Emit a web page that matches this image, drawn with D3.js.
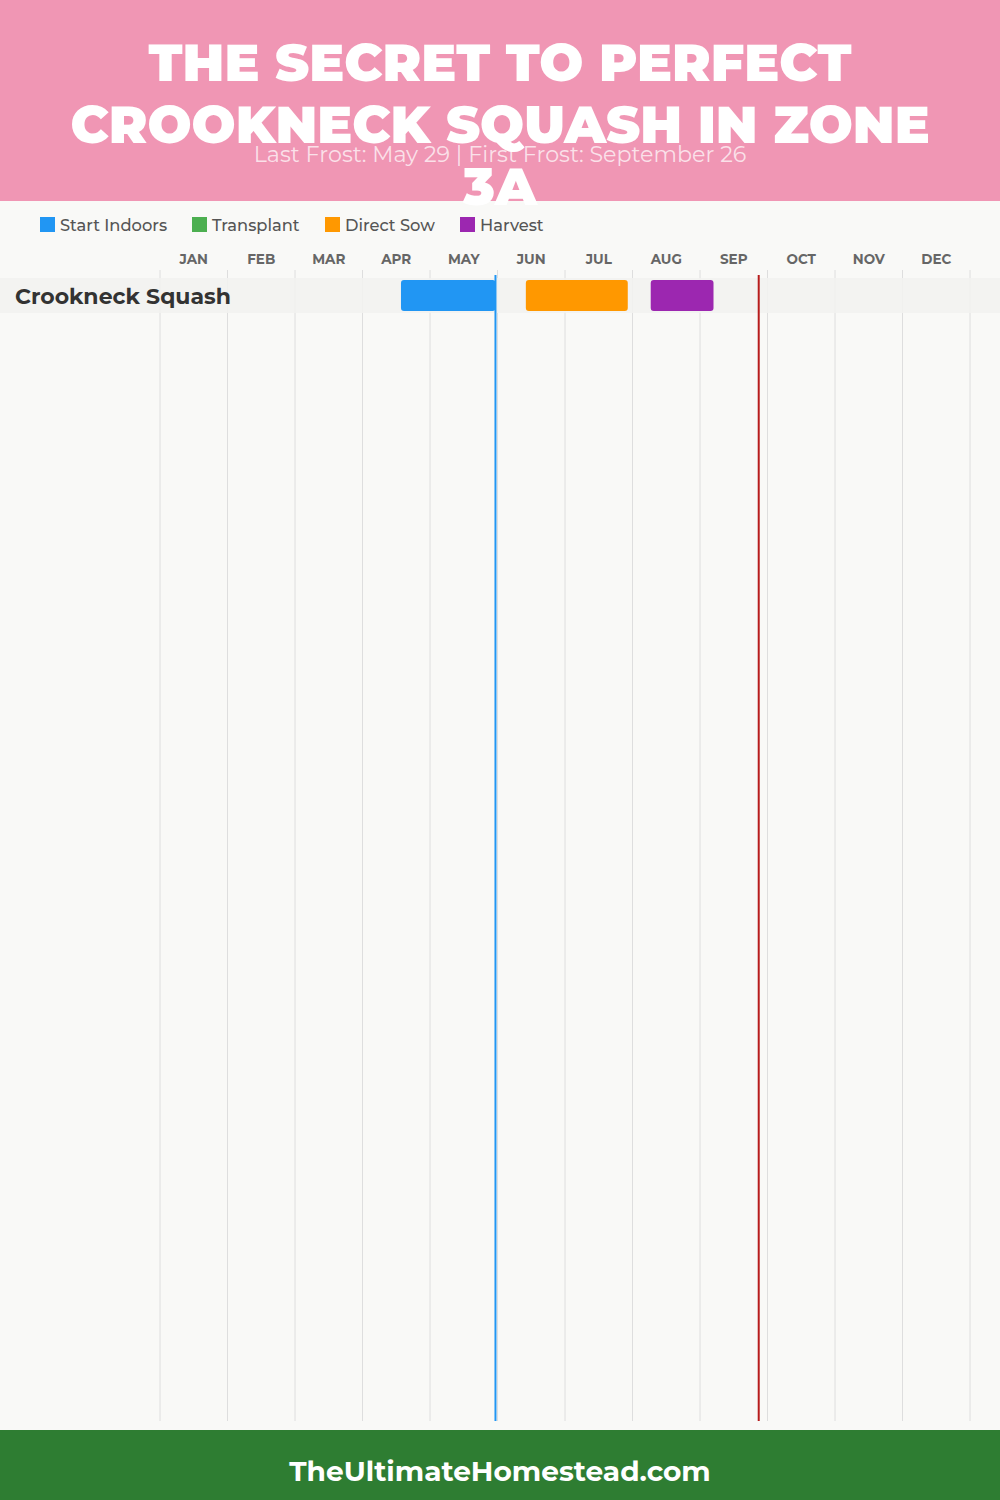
<!DOCTYPE html>
<html><head><meta charset="utf-8">
<script src="https://cdn.jsdelivr.net/npm/d3@7"></script>
<style>
html,body{margin:0;padding:0;background:#f9f9f7;}
svg{display:block;}
</style></head>
<body>
<svg id="chart" width="1000" height="1500"></svg>
<script>
// ---- data ----
const titleLines = ["THE SECRET TO PERFECT", "CROOKNECK SQUASH IN ZONE", "3A"];
const subtitle = "Last Frost: May 29 | First Frost: September 26";
const months = ["JAN","FEB","MAR","APR","MAY","JUN","JUL","AUG","SEP","OCT","NOV","DEC"];
const crops = ["Crookneck Squash"];
const stages = ["Start Indoors","Transplant","Direct Sow","Harvest"];
// ranges in fractional months (0 = Jan 1, 12 = Dec 31), one entry per crop
const startIndoors = [[3.57, 4.97]];
const transplant = [null];
const directSow = [[5.42, 6.93]];
const harvest = [[7.27, 8.20]];
const frostNames = ["Last Frost", "First Frost"];
const frostMonths = [4.97, 8.87];
const footerText = "TheUltimateHomestead.com";

// ---- styles ----
const stageColors = ["#2196f3", "#4caf50", "#ff9800", "#9c27b0"];
const frostColors = ["#2196f3", "#b71c1c"];
const FONT = "Montserrat, Inter, 'Open Sans', sans-serif";

const svg = d3.select("#chart");
const W = 1000, H = 1500;

svg.append("rect").attr("x",0).attr("y",0).attr("width",W).attr("height",H).attr("fill","#f9f9f7");

// header
svg.append("rect").attr("x",0).attr("y",0).attr("width",W).attr("height",201).attr("fill","#f096b4");
svg.append("text").attr("x",500).attr("y",162).attr("text-anchor","middle")
  .attr("font-family",FONT).attr("font-size",22.2).attr("fill","#ffffff").attr("fill-opacity",0.72)
  .text(subtitle);
svg.append("g").selectAll("text").data(titleLines).join("text")
  .attr("x",500).attr("y",(d,i)=>81 + i*62).attr("text-anchor","middle")
  .attr("font-family",FONT).attr("font-weight",900).attr("font-size",52).attr("fill","#ffffff")
  .text(d=>d);

// legend
const legendX = [40, 192, 325, 460];
const lg = svg.append("g").selectAll("g").data(stages).join("g")
  .attr("transform",(d,i)=>`translate(${legendX[i]},217)`);
lg.append("rect").attr("width",15).attr("height",15).attr("fill",(d,i)=>stageColors[i]);
lg.append("text").attr("x",20).attr("y",13.5).attr("font-family",FONT).attr("font-weight",500)
  .attr("font-size",16.3).attr("fill","#555").text(d=>d);

// scales
const x = d3.scaleLinear().domain([0,12]).range([160,970]);
const y = d3.scaleBand().domain(crops).range([278, 278 + 35*crops.length]).paddingInner(0);

// grid
svg.append("g").selectAll("line").data(d3.range(0,13)).join("line")
  .attr("x1",d=>x(d)).attr("x2",d=>x(d)).attr("y1",270).attr("y2",1421)
  .attr("stroke","#dedede").attr("stroke-width",1);

// month labels
svg.append("g").selectAll("text").data(months).join("text")
  .attr("x",(d,i)=>x(i+0.5)).attr("y",264).attr("text-anchor","middle")
  .attr("font-family",FONT).attr("font-weight",700).attr("font-size",13.5).attr("fill","#666")
  .text(d=>d);

// row bands
svg.append("g").selectAll("rect").data(crops).join("rect")
  .attr("x",0).attr("width",W).attr("y",d=>y(d)).attr("height",y.bandwidth())
  .attr("fill","#f2f2f0").attr("fill-opacity",0.9);

// bars
const series = [startIndoors, transplant, directSow, harvest];
const barData = [];
series.forEach((s,si)=>s.forEach((r,ci)=>{ if(r) barData.push({crop:crops[ci], s:r[0], e:r[1], si}); }));
svg.append("g").selectAll("rect").data(barData).join("rect")
  .attr("x",d=>x(d.s)).attr("width",d=>x(d.e)-x(d.s))
  .attr("y",d=>y(d.crop)+2).attr("height",y.bandwidth()-4)
  .attr("rx",3).attr("ry",3).attr("fill",d=>stageColors[d.si]);

// crop labels
svg.append("g").selectAll("text").data(crops).join("text")
  .attr("x",15).attr("y",d=>y(d)+y.bandwidth()/2+8)
  .attr("font-family",FONT).attr("font-weight",700).attr("font-size",22).attr("fill","#333")
  .text(d=>d);

// frost lines
svg.append("g").selectAll("line").data(frostMonths).join("line")
  .attr("x1",d=>x(d)).attr("x2",d=>x(d)).attr("y1",275).attr("y2",1421)
  .attr("stroke",(d,i)=>frostColors[i]).attr("stroke-width",2)
  .append("title").text((d,i)=>frostNames[i]);

// footer
svg.append("rect").attr("x",0).attr("y",1430).attr("width",W).attr("height",70).attr("fill","#2e7d32");
svg.append("text").attr("x",500).attr("y",1481).attr("text-anchor","middle")
  .attr("font-family",FONT).attr("font-weight",700).attr("font-size",28).attr("fill","#ffffff")
  .text(footerText);
</script>
</body></html>
